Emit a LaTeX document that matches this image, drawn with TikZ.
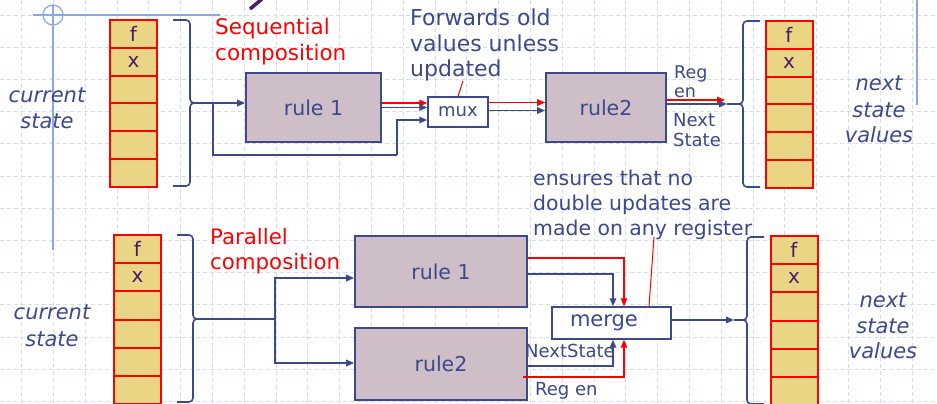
\documentclass[tikz,border=0pt]{standalone}
\usepackage{fontspec}
\setmainfont{DejaVu Sans}
\usetikzlibrary{arrows.meta,calc}
\definecolor{navy}{RGB}{62,72,140}
\definecolor{boxfill}{RGB}{205,190,200}
\definecolor{regfill}{RGB}{233,213,132}
\definecolor{regtext}{RGB}{75,25,110}
\definecolor{gridc}{RGB}{210,220,247}
\definecolor{solidblue}{RGB}{140,165,235}
\newcommand\fs[1]{\fontsize{#1}{#1}\selectfont}
\begin{document}
\begin{tikzpicture}[x=1pt,y=-1pt,
  rulebox/.style={draw=navy, line width=1.6pt, fill=boxfill, inner sep=0pt, text=navy, font=\fs{20.5}},
  smallbox/.style={draw=navy, line width=1.4pt, fill=white, inner sep=0pt, text=navy},
  regcell/.style={fill=regfill, minimum width=47pt, minimum height=28pt, inner sep=0pt},
  regedge/.style={draw=red, line width=2pt, minimum width=47pt, minimum height=28pt, inner sep=0pt},
  conn/.style={draw=navy, line width=1.6pt},
  redc/.style={draw=red, line width=1.2pt},
  arr/.style={-{Triangle[length=8pt,width=6.5pt]}},
  bracestyle/.style={draw=navy, line width=1.6pt, rounded corners=4pt},
  lbl/.style={inner sep=0pt, text=navy},
  lblred/.style={inner sep=0pt, text=red},
  gridline/.style={draw=gridc, line width=0.9pt, dash pattern=on 4pt off 3pt}
]
\useasboundingbox (0,0) rectangle (937,404);
\fill[white] (0,0) rectangle (937,404);
% background grid
\foreach \k in {0,...,29} \draw[gridline] (21.7+31.8*\k,0) -- (21.7+31.8*\k,404);
\foreach \k in {0,...,12} \draw[gridline] (0,15+32.2*\k) -- (937,15+32.2*\k);
\draw[solidblue, line width=1.2pt] (33,15) -- (220,15);
\draw[solidblue, line width=1.2pt] (53,5) -- (53,250);
\draw[solidblue, line width=1.2pt] (53,15) circle (10pt);
\draw[solidblue, line width=1.5pt] (917,0) -- (917,105);
\draw[regtext, line width=3.5pt] (262,-1) -- (250,9);

% ---------- registers ----------
\foreach \i in {1,...,6} {
  \node[regcell] (ta\i) at (133.5,{20+27.8*(\i-0.5)}) {};
  \node[regcell] (tb\i) at (789,{21+27.8*(\i-0.5)}) {};
  \node[regcell] (ba\i) at (137.5,{235+28.2*(\i-0.5)}) {};
  \node[regcell] (bb\i) at (794,{236+28.2*(\i-0.5)}) {};
}
\foreach \r in {ta,tb} \foreach \i in {1,...,6} \node[regedge, minimum height=27.8pt] (\r e\i) at (\r\i) {};
\foreach \r in {ba,bb} \foreach \i in {1,...,6} \node[regedge, minimum height=28.2pt] (\r e\i) at (\r\i) {};
\foreach \r in {ta,tb,ba,bb} {
  \node[inner sep=0pt, text=regtext, font=\fs{20}] (\r f) at (\r1) {f};
  \node[inner sep=0pt, text=regtext, font=\fs{20}] (\r x) at (\r2) {x};
}

% ---------- braces ----------
\coordinate (b1tip) at (205,103);
\draw[bracestyle] (173,20) -- (190,20) -- (190,103) -- (b1tip);
\draw[bracestyle] (173,186) -- (190,186) -- (190,103) -- (b1tip);
\coordinate (b2tip) at (727,104);
\draw[bracestyle] (760,21) -- (743,21) -- (743,104) -- (b2tip);
\draw[bracestyle] (760,187) -- (743,187) -- (743,104) -- (b2tip);
\coordinate (b3tip) at (208,319);
\draw[bracestyle] (177,235) -- (193,235) -- (193,319) -- (b3tip);
\draw[bracestyle] (177,402) -- (193,402) -- (193,319) -- (b3tip);
\coordinate (b4tip) at (734,320);
\draw[bracestyle] (764,237) -- (747,237) -- (747,320) -- (b4tip);
\draw[bracestyle] (764,404) -- (747,404) -- (747,320) -- (b4tip);

% ---------- top boxes ----------
\node[rulebox, minimum width=135pt, minimum height=69pt] (r1) at (313.5,107.5) {rule 1};
\node[smallbox, minimum width=60pt, minimum height=30pt, font=\fs{18}] (mux) at (458,112) {mux};
\node[rulebox, minimum width=120pt, minimum height=69pt] (r2) at (606,107.5) {rule2};

% ---------- bottom boxes ----------
\node[rulebox, minimum width=172pt, minimum height=71pt] (rb1) at (441,271.5) {rule 1};
\node[rulebox, minimum width=172pt, minimum height=72pt] (rb2) at (441,364) {rule2};
\node[smallbox, minimum width=119pt, minimum height=32pt, font=\fs{21}] (merge) at (611.5,323) {\makebox[119pt][l]{\hspace{18pt}merge}};

% ---------- top connectors ----------
\coordinate (j1) at (213,103);
\coordinate (k1) at (397,155);
\draw[conn,arr] (b1tip) -- (r1.west |- b1tip);
\draw[conn] (j1) |- (k1);
\draw[conn,arr] (k1) |- (mux.west |- 0,120);
\draw[redc,arr] (r1.east |- 0,103) -- (mux.west |- 0,103);
\draw[conn,arr] (r1.east |- 0,107.5) -- (mux.west |- 0,107.5);
\draw[redc,arr] (mux.east |- 0,102.5) -- (r2.west |- 0,102.5);
\draw[conn,arr] (mux.east |- 0,110.5) -- (r2.west |- 0,110.5);
\draw[redc,arr] (r2.east |- 0,100) -- (725,100);
\draw[conn,arr] (r2.east |- b2tip) -- (b2tip);
\coordinate (fwdptr) at (463,81);
\draw[red, line width=1pt] (fwdptr) -- (mux.north);

% ---------- bottom connectors ----------
\coordinate (j2) at (275,319);
\draw[conn] (b3tip) -- (j2);
\draw[conn,arr] (j2) |- (rb1.west |- 0,278);
\draw[conn,arr] (j2) |- (rb2.west |- 0,363);
\draw[redc,arr] (rb1.east |- 0,258) -| ([xshift=12.5pt]merge.north);
\draw[conn,arr] (rb1.east |- 0,274) -| ([xshift=1.5pt]merge.north);
\draw[conn,arr] (rb2.east |- 0,366) -| ([xshift=1.5pt]merge.south);
\draw[redc,arr] (523,377) -| ([xshift=12.5pt]merge.south);
\draw[conn,arr] (merge.east |- b4tip) -- (b4tip);
\coordinate (ensptr) at (654,237);
\draw[red, line width=1pt] (ensptr) -- ([xshift=37.5pt]merge.north);

% ---------- texts ----------
\node[lbl, font=\itshape\fs{21}, anchor=base] (cs1) at (47,102) {current};
\node[lbl, font=\itshape\fs{21}, anchor=base] (cs2) at (47,128) {state};
\node[lblred, font=\fs{21.5}, anchor=base west] (sq1) at (215,35) {Sequential};
\node[lblred, font=\fs{21.5}, anchor=base west] (sq2) at (215,60) {composition};
\node[lbl, font=\fs{22}, anchor=base west] (fw1) at (410,26) {Forwards old};
\node[lbl, font=\fs{22}, anchor=base west] (fw2) at (410,52) {values unless};
\node[lbl, font=\fs{22}, anchor=base west] (fw3) at (410,77) {updated};
\node[lbl, font=\fs{17.5}, anchor=base west] (re1) at (674,78) {Reg};
\node[lbl, font=\fs{17.5}, anchor=base west] (re2) at (674,97) {en};
\node[lbl, font=\fs{18}, anchor=base west] (ns1) at (673,126) {Next};
\node[lbl, font=\fs{18}, anchor=base west] (ns2) at (673,146) {State};
\node[lbl, font=\itshape\fs{21}, anchor=base] (nv1) at (879,90) {next};
\node[lbl, font=\itshape\fs{21}, anchor=base] (nv2) at (879,117) {state};
\node[lbl, font=\itshape\fs{21}, anchor=base] (nv3) at (879,142) {values};

\node[lbl, font=\itshape\fs{21}, anchor=base] (bcs1) at (52,319) {current};
\node[lbl, font=\itshape\fs{21}, anchor=base] (bcs2) at (52,346) {state};
\node[lblred, font=\fs{21.3}, anchor=base west] (pa1) at (210,244) {Parallel};
\node[lblred, font=\fs{21.3}, anchor=base west] (pa2) at (210,269) {composition};
\node[lbl, font=\fs{20.4}, anchor=base west] (en1) at (533,185) {ensures that no};
\node[lbl, font=\fs{20.4}, anchor=base west] (en2) at (533,210) {double updates are};
\node[lbl, font=\fs{20.4}, anchor=base west] (en3) at (533,235) {made on any register};
\node[lbl, font=\fs{18}, anchor=base west] (bns) at (525,357) {NextState};
\node[lbl, font=\fs{18}, anchor=base west] (bre) at (535,395) {Reg en};
\node[lbl, font=\itshape\fs{21}, anchor=base] (bnv1) at (883,307) {next};
\node[lbl, font=\itshape\fs{21}, anchor=base] (bnv2) at (883,333) {state};
\node[lbl, font=\itshape\fs{21}, anchor=base] (bnv3) at (883,358) {values};
\end{tikzpicture}
\end{document}
